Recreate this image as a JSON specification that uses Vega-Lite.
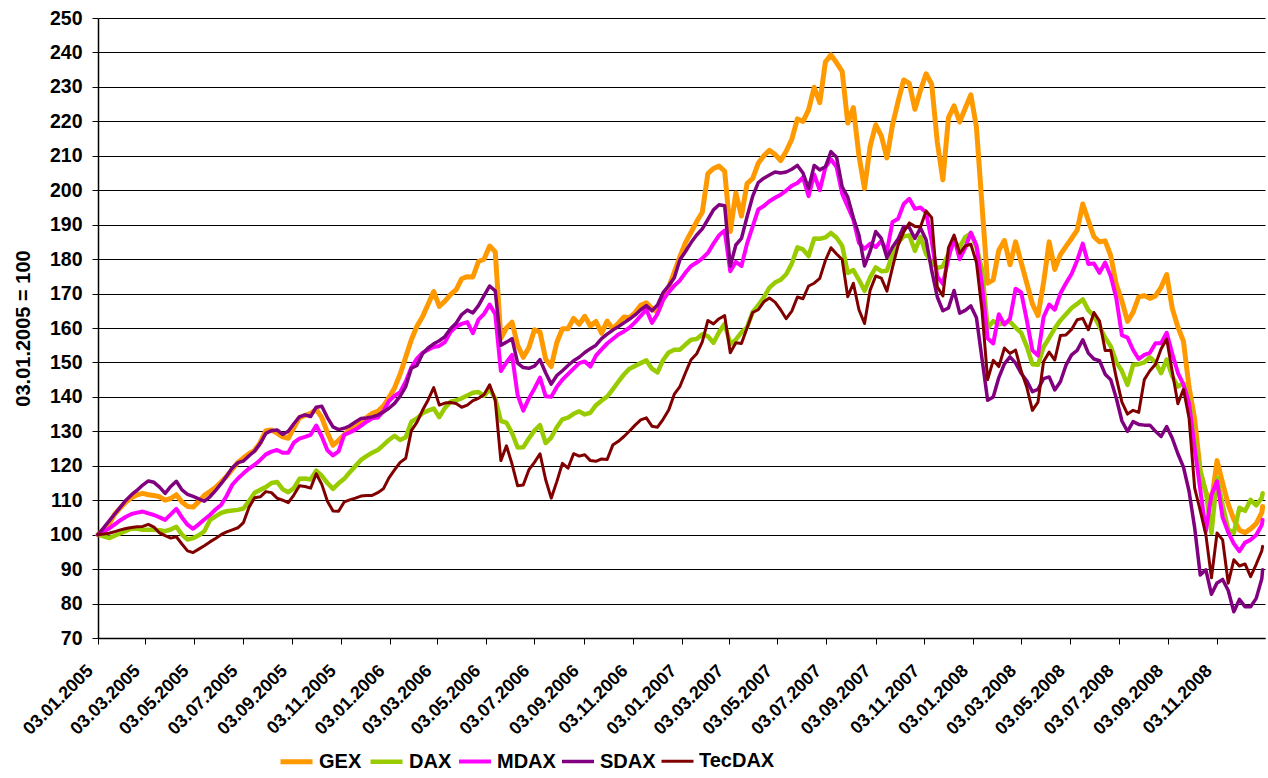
{
  "$schema": "https://vega.github.io/schema/vega-lite/v6.json",
  "width": 1167,
  "height": 620,
  "autosize": "none",
  "padding": {"left": 98, "top": 18, "right": 3, "bottom": 140},
  "background": "white",
  "config": {
    "font": "Liberation Sans",
    "view": {"stroke": null},
    "legend": {
      "symbolType": "stroke",
      "symbolSize": 1024,
      "labelFontSize": 20,
      "labelFontWeight": "bold",
      "labelColor": "black",
      "labelOffset": 4,
      "columnPadding": -1
    }
  },
  "data": {
    "values": [
      {"d":"2005-01-03","GEX":100,"DAX":100,"MDAX":100,"SDAX":100,"TecDAX":100},
      {"d":"2005-01-10","GEX":101.5,"DAX":99.5,"MDAX":100.9,"SDAX":102,"TecDAX":100.2},
      {"d":"2005-01-17","GEX":103.2,"DAX":99,"MDAX":101.8,"SDAX":104,"TecDAX":100.4},
      {"d":"2005-01-24","GEX":106,"DAX":99.7,"MDAX":103,"SDAX":106,"TecDAX":100.9},
      {"d":"2005-01-31","GEX":107.8,"DAX":100.4,"MDAX":104.2,"SDAX":108,"TecDAX":101.4},
      {"d":"2005-02-07","GEX":109.5,"DAX":101.1,"MDAX":105.2,"SDAX":110,"TecDAX":101.8},
      {"d":"2005-02-14","GEX":110.8,"DAX":101.8,"MDAX":106,"SDAX":111.6,"TecDAX":102.1},
      {"d":"2005-02-21","GEX":111.6,"DAX":101.7,"MDAX":106.4,"SDAX":112.9,"TecDAX":102.3},
      {"d":"2005-02-28","GEX":112,"DAX":101.4,"MDAX":106.7,"SDAX":114.4,"TecDAX":102.4},
      {"d":"2005-03-07","GEX":111.6,"DAX":101.4,"MDAX":106.2,"SDAX":115.6,"TecDAX":103},
      {"d":"2005-03-14","GEX":111.4,"DAX":101.4,"MDAX":105.7,"SDAX":115.2,"TecDAX":102.2},
      {"d":"2005-03-21","GEX":111,"DAX":101.3,"MDAX":105,"SDAX":113.8,"TecDAX":100.5},
      {"d":"2005-03-28","GEX":110,"DAX":101,"MDAX":104.3,"SDAX":112,"TecDAX":99.7},
      {"d":"2005-04-04","GEX":110.5,"DAX":101.5,"MDAX":105.9,"SDAX":114,"TecDAX":99},
      {"d":"2005-04-11","GEX":111.6,"DAX":102.3,"MDAX":107.5,"SDAX":115.5,"TecDAX":99.4},
      {"d":"2005-04-18","GEX":109.5,"DAX":100,"MDAX":105,"SDAX":113,"TecDAX":97.3},
      {"d":"2005-04-25","GEX":108.2,"DAX":98.6,"MDAX":102.9,"SDAX":111.7,"TecDAX":95.3},
      {"d":"2005-05-02","GEX":108,"DAX":99,"MDAX":101.7,"SDAX":111.1,"TecDAX":94.8},
      {"d":"2005-05-09","GEX":109.6,"DAX":99.8,"MDAX":103,"SDAX":110.4,"TecDAX":95.8},
      {"d":"2005-05-16","GEX":111.4,"DAX":101,"MDAX":104.4,"SDAX":109.7,"TecDAX":96.8},
      {"d":"2005-05-23","GEX":112.5,"DAX":104.2,"MDAX":105.7,"SDAX":111,"TecDAX":97.9},
      {"d":"2005-05-30","GEX":113.7,"DAX":105.3,"MDAX":107.3,"SDAX":112.8,"TecDAX":98.9},
      {"d":"2005-06-06","GEX":115.3,"DAX":106.3,"MDAX":108.6,"SDAX":114.8,"TecDAX":100},
      {"d":"2005-06-13","GEX":117,"DAX":106.8,"MDAX":111.3,"SDAX":117,"TecDAX":100.8},
      {"d":"2005-06-20","GEX":119,"DAX":107,"MDAX":114.5,"SDAX":119.4,"TecDAX":101.4},
      {"d":"2005-06-27","GEX":121,"DAX":107.2,"MDAX":116.3,"SDAX":120.9,"TecDAX":102},
      {"d":"2005-07-04","GEX":122.3,"DAX":107.6,"MDAX":117.8,"SDAX":121.4,"TecDAX":103.5},
      {"d":"2005-07-11","GEX":123.5,"DAX":109.8,"MDAX":119.2,"SDAX":122.9,"TecDAX":108},
      {"d":"2005-07-18","GEX":124.5,"DAX":112.2,"MDAX":120.3,"SDAX":124.3,"TecDAX":110.7},
      {"d":"2005-07-25","GEX":126.8,"DAX":113,"MDAX":121.7,"SDAX":126.5,"TecDAX":111},
      {"d":"2005-08-01","GEX":130.2,"DAX":113.8,"MDAX":123.3,"SDAX":129.4,"TecDAX":112.5},
      {"d":"2005-08-08","GEX":130.4,"DAX":115,"MDAX":124.1,"SDAX":130.2,"TecDAX":112.2},
      {"d":"2005-08-15","GEX":129.5,"DAX":115.3,"MDAX":124.6,"SDAX":130.4,"TecDAX":110.6},
      {"d":"2005-08-22","GEX":128.4,"DAX":113.2,"MDAX":123.8,"SDAX":129.1,"TecDAX":110},
      {"d":"2005-08-29","GEX":128,"DAX":112.3,"MDAX":123.8,"SDAX":130,"TecDAX":109.3},
      {"d":"2005-09-05","GEX":131,"DAX":113.5,"MDAX":126.7,"SDAX":132.2,"TecDAX":111.5},
      {"d":"2005-09-12","GEX":134,"DAX":116.2,"MDAX":127.9,"SDAX":134.2,"TecDAX":114.2},
      {"d":"2005-09-19","GEX":134.6,"DAX":116.3,"MDAX":128.4,"SDAX":134.8,"TecDAX":114},
      {"d":"2005-09-26","GEX":135.2,"DAX":116,"MDAX":129,"SDAX":134.3,"TecDAX":113.5},
      {"d":"2005-10-03","GEX":136.4,"DAX":118.6,"MDAX":131.7,"SDAX":137,"TecDAX":117.7},
      {"d":"2005-10-10","GEX":134,"DAX":117.1,"MDAX":128.5,"SDAX":137.3,"TecDAX":114.6},
      {"d":"2005-10-17","GEX":129.6,"DAX":115,"MDAX":124.5,"SDAX":134,"TecDAX":109.7},
      {"d":"2005-10-24","GEX":126,"DAX":113.3,"MDAX":123,"SDAX":131.3,"TecDAX":106.9},
      {"d":"2005-10-31","GEX":127.4,"DAX":114.9,"MDAX":124.2,"SDAX":130.5,"TecDAX":106.8},
      {"d":"2005-11-07","GEX":129,"DAX":116.2,"MDAX":129,"SDAX":130.9,"TecDAX":109.5},
      {"d":"2005-11-14","GEX":130.7,"DAX":118.1,"MDAX":129.7,"SDAX":131.6,"TecDAX":110.1},
      {"d":"2005-11-21","GEX":131.7,"DAX":119.9,"MDAX":130.5,"SDAX":132.7,"TecDAX":110.6},
      {"d":"2005-11-28","GEX":132.9,"DAX":121.7,"MDAX":131.6,"SDAX":133.7,"TecDAX":111.2},
      {"d":"2005-12-05","GEX":134,"DAX":122.8,"MDAX":132.8,"SDAX":133.9,"TecDAX":111.4},
      {"d":"2005-12-12","GEX":135.2,"DAX":123.8,"MDAX":133.8,"SDAX":134.2,"TecDAX":111.4},
      {"d":"2005-12-19","GEX":135.8,"DAX":124.6,"MDAX":134,"SDAX":134.7,"TecDAX":112.2},
      {"d":"2005-12-26","GEX":137.3,"DAX":126,"MDAX":135.8,"SDAX":135.6,"TecDAX":113.3},
      {"d":"2006-01-02","GEX":139.8,"DAX":127.5,"MDAX":138.8,"SDAX":136.7,"TecDAX":116.5},
      {"d":"2006-01-09","GEX":142.6,"DAX":128.7,"MDAX":140.3,"SDAX":138.1,"TecDAX":118.8},
      {"d":"2006-01-16","GEX":146.6,"DAX":127.5,"MDAX":141.4,"SDAX":140.2,"TecDAX":121},
      {"d":"2006-01-23","GEX":151.6,"DAX":128.3,"MDAX":144.5,"SDAX":143,"TecDAX":122.2},
      {"d":"2006-01-30","GEX":156.6,"DAX":132.8,"MDAX":148.5,"SDAX":148.3,"TecDAX":130.2},
      {"d":"2006-02-06","GEX":160.5,"DAX":133.7,"MDAX":151.1,"SDAX":149.1,"TecDAX":132.6},
      {"d":"2006-02-13","GEX":163.3,"DAX":135.3,"MDAX":152.8,"SDAX":152.5,"TecDAX":136.1},
      {"d":"2006-02-20","GEX":166.9,"DAX":136,"MDAX":153.7,"SDAX":154.2,"TecDAX":139.1},
      {"d":"2006-02-27","GEX":170.6,"DAX":136.6,"MDAX":154.5,"SDAX":155.4,"TecDAX":142.7},
      {"d":"2006-03-06","GEX":166.3,"DAX":134.1,"MDAX":154.8,"SDAX":156.3,"TecDAX":137.6},
      {"d":"2006-03-13","GEX":167.8,"DAX":136.8,"MDAX":155.9,"SDAX":157.5,"TecDAX":138.2},
      {"d":"2006-03-20","GEX":169.7,"DAX":138.6,"MDAX":158.8,"SDAX":159.8,"TecDAX":138.4},
      {"d":"2006-03-27","GEX":171.1,"DAX":139,"MDAX":160.4,"SDAX":161.4,"TecDAX":138.1},
      {"d":"2006-04-03","GEX":174.3,"DAX":139.6,"MDAX":161.2,"SDAX":163.9,"TecDAX":137},
      {"d":"2006-04-10","GEX":174.9,"DAX":140.4,"MDAX":161.7,"SDAX":165.2,"TecDAX":137.6},
      {"d":"2006-04-17","GEX":174.8,"DAX":141.2,"MDAX":158.5,"SDAX":164.4,"TecDAX":138.9},
      {"d":"2006-04-24","GEX":179.3,"DAX":141.4,"MDAX":162.4,"SDAX":166.5,"TecDAX":139.6},
      {"d":"2006-05-01","GEX":180,"DAX":140.3,"MDAX":164.1,"SDAX":169.4,"TecDAX":140.7},
      {"d":"2006-05-08","GEX":183.8,"DAX":142.3,"MDAX":166.8,"SDAX":172.2,"TecDAX":143.5},
      {"d":"2006-05-15","GEX":182.1,"DAX":139.5,"MDAX":164,"SDAX":170.8,"TecDAX":139},
      {"d":"2006-05-22","GEX":157,"DAX":133,"MDAX":147.5,"SDAX":155,"TecDAX":121.5},
      {"d":"2006-05-29","GEX":160,"DAX":132.5,"MDAX":150,"SDAX":155.9,"TecDAX":125.8},
      {"d":"2006-06-05","GEX":161.7,"DAX":129.5,"MDAX":152.2,"SDAX":156.9,"TecDAX":120.5},
      {"d":"2006-06-12","GEX":155,"DAX":125.3,"MDAX":140.5,"SDAX":149.8,"TecDAX":114.2},
      {"d":"2006-06-19","GEX":151.5,"DAX":125.4,"MDAX":136,"SDAX":148.5,"TecDAX":114.4},
      {"d":"2006-06-26","GEX":154.3,"DAX":127.9,"MDAX":139.5,"SDAX":148.3,"TecDAX":118.8},
      {"d":"2006-07-03","GEX":159.5,"DAX":130.2,"MDAX":142.4,"SDAX":148.9,"TecDAX":121},
      {"d":"2006-07-10","GEX":158.8,"DAX":131.8,"MDAX":145.6,"SDAX":150.8,"TecDAX":123.5},
      {"d":"2006-07-17","GEX":151,"DAX":126.6,"MDAX":140.2,"SDAX":147,"TecDAX":116},
      {"d":"2006-07-24","GEX":148.8,"DAX":128.2,"MDAX":140,"SDAX":143.7,"TecDAX":110.6},
      {"d":"2006-07-31","GEX":155.8,"DAX":131.2,"MDAX":142.9,"SDAX":146.2,"TecDAX":115.4},
      {"d":"2006-08-07","GEX":159.8,"DAX":133.5,"MDAX":145,"SDAX":147.6,"TecDAX":120.7},
      {"d":"2006-08-14","GEX":159.8,"DAX":134,"MDAX":146.6,"SDAX":149.1,"TecDAX":119.3},
      {"d":"2006-08-21","GEX":162.8,"DAX":135.1,"MDAX":148.2,"SDAX":150.5,"TecDAX":123.5},
      {"d":"2006-08-28","GEX":161.1,"DAX":135.8,"MDAX":149.8,"SDAX":151.5,"TecDAX":122.8},
      {"d":"2006-09-04","GEX":163.4,"DAX":134.9,"MDAX":150.3,"SDAX":152.9,"TecDAX":123.2},
      {"d":"2006-09-11","GEX":160.6,"DAX":135.4,"MDAX":148.8,"SDAX":154,"TecDAX":121.5},
      {"d":"2006-09-18","GEX":161.9,"DAX":137.6,"MDAX":152,"SDAX":155,"TecDAX":121.3},
      {"d":"2006-09-25","GEX":158.5,"DAX":138.9,"MDAX":153.8,"SDAX":156.9,"TecDAX":122},
      {"d":"2006-10-02","GEX":162,"DAX":140.1,"MDAX":155.5,"SDAX":158.2,"TecDAX":121.8},
      {"d":"2006-10-09","GEX":159.8,"DAX":142.2,"MDAX":156.8,"SDAX":159.4,"TecDAX":126},
      {"d":"2006-10-16","GEX":161.4,"DAX":144.4,"MDAX":158.1,"SDAX":160.4,"TecDAX":127.1},
      {"d":"2006-10-23","GEX":163.2,"DAX":146.5,"MDAX":159,"SDAX":161.5,"TecDAX":128.5},
      {"d":"2006-10-30","GEX":163,"DAX":148.2,"MDAX":160.1,"SDAX":162.6,"TecDAX":130.1},
      {"d":"2006-11-06","GEX":164.5,"DAX":149,"MDAX":161.7,"SDAX":163.8,"TecDAX":131.8},
      {"d":"2006-11-13","GEX":166.6,"DAX":149.8,"MDAX":163.5,"SDAX":165.3,"TecDAX":133.3},
      {"d":"2006-11-20","GEX":167.3,"DAX":150.6,"MDAX":165.4,"SDAX":166.5,"TecDAX":133.9},
      {"d":"2006-11-27","GEX":165.7,"DAX":148.2,"MDAX":161.5,"SDAX":165,"TecDAX":131.5},
      {"d":"2006-12-04","GEX":164.6,"DAX":147.1,"MDAX":164.1,"SDAX":166.7,"TecDAX":131.2},
      {"d":"2006-12-11","GEX":168.4,"DAX":150.7,"MDAX":168.2,"SDAX":170.3,"TecDAX":133.5},
      {"d":"2006-12-18","GEX":171.9,"DAX":152.9,"MDAX":170.4,"SDAX":172.3,"TecDAX":136.2},
      {"d":"2006-12-25","GEX":176.2,"DAX":153.7,"MDAX":172.3,"SDAX":174.6,"TecDAX":140.8},
      {"d":"2007-01-01","GEX":180.7,"DAX":153.7,"MDAX":173.8,"SDAX":179.8,"TecDAX":143},
      {"d":"2007-01-08","GEX":184.8,"DAX":155.2,"MDAX":176.1,"SDAX":182.2,"TecDAX":147},
      {"d":"2007-01-15","GEX":187.8,"DAX":156.6,"MDAX":178,"SDAX":184.8,"TecDAX":150.8},
      {"d":"2007-01-22","GEX":190.9,"DAX":156.8,"MDAX":179,"SDAX":187,"TecDAX":152.5},
      {"d":"2007-01-29","GEX":193.6,"DAX":158.2,"MDAX":180.2,"SDAX":188.8,"TecDAX":156},
      {"d":"2007-02-05","GEX":204.8,"DAX":157.6,"MDAX":181.8,"SDAX":191.5,"TecDAX":162.2},
      {"d":"2007-02-12","GEX":206.3,"DAX":155.7,"MDAX":184.5,"SDAX":194.3,"TecDAX":161.2},
      {"d":"2007-02-19","GEX":207,"DAX":158.8,"MDAX":186.9,"SDAX":195.8,"TecDAX":162.7},
      {"d":"2007-02-26","GEX":205.5,"DAX":161.2,"MDAX":188.3,"SDAX":195.5,"TecDAX":163.6},
      {"d":"2007-03-05","GEX":188,"DAX":155.3,"MDAX":176.5,"SDAX":178,"TecDAX":152.8},
      {"d":"2007-03-12","GEX":199.2,"DAX":156.6,"MDAX":179.2,"SDAX":184.1,"TecDAX":155.7},
      {"d":"2007-03-19","GEX":192.5,"DAX":158.7,"MDAX":178,"SDAX":186,"TecDAX":155.5},
      {"d":"2007-03-26","GEX":201.9,"DAX":160.2,"MDAX":184.5,"SDAX":192.3,"TecDAX":160},
      {"d":"2007-04-02","GEX":203.4,"DAX":164.6,"MDAX":189.4,"SDAX":198.2,"TecDAX":164.5},
      {"d":"2007-04-09","GEX":207.8,"DAX":166.6,"MDAX":194.4,"SDAX":202.2,"TecDAX":165.3},
      {"d":"2007-04-16","GEX":210,"DAX":168.9,"MDAX":195.4,"SDAX":203.5,"TecDAX":167.6},
      {"d":"2007-04-23","GEX":211.6,"DAX":171.7,"MDAX":196.8,"SDAX":204.4,"TecDAX":168.7},
      {"d":"2007-04-30","GEX":210.4,"DAX":173.2,"MDAX":197.8,"SDAX":205.3,"TecDAX":167.5},
      {"d":"2007-05-07","GEX":208.6,"DAX":174,"MDAX":198.7,"SDAX":205,"TecDAX":165.3},
      {"d":"2007-05-14","GEX":211.3,"DAX":175.6,"MDAX":199.9,"SDAX":205.3,"TecDAX":162.7},
      {"d":"2007-05-21","GEX":214.8,"DAX":178.7,"MDAX":201.3,"SDAX":206.1,"TecDAX":164.9},
      {"d":"2007-05-28","GEX":220.7,"DAX":183.4,"MDAX":202.1,"SDAX":207.2,"TecDAX":169},
      {"d":"2007-06-04","GEX":220,"DAX":182.8,"MDAX":203.7,"SDAX":205,"TecDAX":168.5},
      {"d":"2007-06-11","GEX":223.3,"DAX":180.9,"MDAX":198.3,"SDAX":200.5,"TecDAX":172.2},
      {"d":"2007-06-18","GEX":229.9,"DAX":186,"MDAX":204.6,"SDAX":207.2,"TecDAX":173},
      {"d":"2007-06-25","GEX":225.4,"DAX":185.9,"MDAX":200,"SDAX":205.9,"TecDAX":174.4},
      {"d":"2007-07-02","GEX":237.2,"DAX":186.3,"MDAX":206.6,"SDAX":206.8,"TecDAX":179.6},
      {"d":"2007-07-09","GEX":239.3,"DAX":187.6,"MDAX":209,"SDAX":211.2,"TecDAX":183.3},
      {"d":"2007-07-16","GEX":237,"DAX":186.2,"MDAX":206.7,"SDAX":209.6,"TecDAX":181.5},
      {"d":"2007-07-23","GEX":234.5,"DAX":183.9,"MDAX":199,"SDAX":201,"TecDAX":179.9},
      {"d":"2007-07-30","GEX":219.5,"DAX":176,"MDAX":195.2,"SDAX":198,"TecDAX":169.1},
      {"d":"2007-08-06","GEX":224,"DAX":176.8,"MDAX":191.5,"SDAX":192,"TecDAX":173},
      {"d":"2007-08-13","GEX":210,"DAX":174,"MDAX":184.7,"SDAX":187,"TecDAX":165.3},
      {"d":"2007-08-20","GEX":200.5,"DAX":170.8,"MDAX":183,"SDAX":178,"TecDAX":161.3},
      {"d":"2007-08-27","GEX":212.8,"DAX":174.7,"MDAX":184.5,"SDAX":182.3,"TecDAX":171},
      {"d":"2007-09-03","GEX":219,"DAX":177.6,"MDAX":183.5,"SDAX":188,"TecDAX":175.1},
      {"d":"2007-09-10","GEX":215.8,"DAX":176.5,"MDAX":185.3,"SDAX":186,"TecDAX":174.5},
      {"d":"2007-09-17","GEX":209.4,"DAX":176.6,"MDAX":182.3,"SDAX":180.4,"TecDAX":170.7},
      {"d":"2007-09-24","GEX":219,"DAX":181.5,"MDAX":190.8,"SDAX":183.5,"TecDAX":177.6},
      {"d":"2007-10-01","GEX":225.8,"DAX":184.9,"MDAX":191.7,"SDAX":185.8,"TecDAX":184},
      {"d":"2007-10-08","GEX":232,"DAX":186.6,"MDAX":196,"SDAX":189.5,"TecDAX":187.9},
      {"d":"2007-10-15","GEX":231,"DAX":186.9,"MDAX":197.5,"SDAX":189.2,"TecDAX":190.5},
      {"d":"2007-10-22","GEX":223.5,"DAX":182.4,"MDAX":194.6,"SDAX":186,"TecDAX":189.5},
      {"d":"2007-10-29","GEX":229,"DAX":186.5,"MDAX":195,"SDAX":189,"TecDAX":189.3},
      {"d":"2007-11-05","GEX":233.8,"DAX":181.5,"MDAX":193.5,"SDAX":185.6,"TecDAX":194},
      {"d":"2007-11-12","GEX":230.8,"DAX":179,"MDAX":185.2,"SDAX":176.7,"TecDAX":192},
      {"d":"2007-11-19","GEX":214,"DAX":177.4,"MDAX":175,"SDAX":169,"TecDAX":172},
      {"d":"2007-11-26","GEX":203,"DAX":177.9,"MDAX":172.8,"SDAX":165,"TecDAX":169.3},
      {"d":"2007-12-03","GEX":221,"DAX":181.6,"MDAX":180.2,"SDAX":165.8,"TecDAX":183.3},
      {"d":"2007-12-10","GEX":224.5,"DAX":185,"MDAX":186.3,"SDAX":170.9,"TecDAX":187},
      {"d":"2007-12-17","GEX":219.8,"DAX":183.5,"MDAX":180,"SDAX":164.3,"TecDAX":181.7},
      {"d":"2007-12-24","GEX":223.8,"DAX":186.4,"MDAX":183.3,"SDAX":165.1,"TecDAX":183.8},
      {"d":"2007-12-31","GEX":227.7,"DAX":187.5,"MDAX":187.7,"SDAX":166.4,"TecDAX":184.3},
      {"d":"2008-01-07","GEX":218.3,"DAX":183.5,"MDAX":184,"SDAX":163,"TecDAX":179},
      {"d":"2008-01-14","GEX":195.5,"DAX":177,"MDAX":172.4,"SDAX":151,"TecDAX":165},
      {"d":"2008-01-21","GEX":173,"DAX":160,"MDAX":157,"SDAX":139,"TecDAX":145},
      {"d":"2008-01-28","GEX":174,"DAX":162,"MDAX":155.5,"SDAX":140,"TecDAX":150.6},
      {"d":"2008-02-04","GEX":182.6,"DAX":161.1,"MDAX":164,"SDAX":145.6,"TecDAX":148.8},
      {"d":"2008-02-11","GEX":185.4,"DAX":161.5,"MDAX":161,"SDAX":149.6,"TecDAX":154.2},
      {"d":"2008-02-18","GEX":178.4,"DAX":161.9,"MDAX":162.7,"SDAX":151.6,"TecDAX":152.6},
      {"d":"2008-02-25","GEX":185,"DAX":160.1,"MDAX":171.4,"SDAX":149.8,"TecDAX":153.6},
      {"d":"2008-03-03","GEX":179,"DAX":158.6,"MDAX":170.3,"SDAX":146.8,"TecDAX":147.5},
      {"d":"2008-03-10","GEX":173,"DAX":154.6,"MDAX":162.3,"SDAX":144.7,"TecDAX":142.8},
      {"d":"2008-03-17","GEX":167,"DAX":149.5,"MDAX":153.5,"SDAX":141.5,"TecDAX":136.1},
      {"d":"2008-03-24","GEX":163.6,"DAX":149.3,"MDAX":152,"SDAX":142.2,"TecDAX":138.5},
      {"d":"2008-03-31","GEX":173.2,"DAX":154.5,"MDAX":163.2,"SDAX":145.3,"TecDAX":150.3},
      {"d":"2008-04-07","GEX":185,"DAX":157.1,"MDAX":166.8,"SDAX":145.8,"TecDAX":153},
      {"d":"2008-04-14","GEX":177,"DAX":159.9,"MDAX":165.3,"SDAX":142,"TecDAX":150.7},
      {"d":"2008-04-21","GEX":181.3,"DAX":162.2,"MDAX":170,"SDAX":144.4,"TecDAX":157.8},
      {"d":"2008-04-28","GEX":183.7,"DAX":164,"MDAX":173,"SDAX":149.2,"TecDAX":158},
      {"d":"2008-05-05","GEX":186,"DAX":165.8,"MDAX":175.7,"SDAX":152.2,"TecDAX":159.6},
      {"d":"2008-05-12","GEX":188.4,"DAX":167,"MDAX":179.6,"SDAX":153.5,"TecDAX":162.4},
      {"d":"2008-05-19","GEX":196,"DAX":168.3,"MDAX":184.5,"SDAX":156.6,"TecDAX":162.8},
      {"d":"2008-05-26","GEX":191.2,"DAX":165.2,"MDAX":178.6,"SDAX":152.7,"TecDAX":159.5},
      {"d":"2008-06-02","GEX":186.5,"DAX":163.5,"MDAX":178.7,"SDAX":151,"TecDAX":164.5},
      {"d":"2008-06-09","GEX":185,"DAX":160.4,"MDAX":176,"SDAX":150.5,"TecDAX":162},
      {"d":"2008-06-16","GEX":185.3,"DAX":157.2,"MDAX":179,"SDAX":146.6,"TecDAX":153.5},
      {"d":"2008-06-23","GEX":181,"DAX":154.7,"MDAX":175.1,"SDAX":145,"TecDAX":153.5},
      {"d":"2008-06-30","GEX":172.6,"DAX":150.1,"MDAX":168.6,"SDAX":139.6,"TecDAX":145.5},
      {"d":"2008-07-07","GEX":167.8,"DAX":147.5,"MDAX":157.9,"SDAX":133,"TecDAX":138.5},
      {"d":"2008-07-14","GEX":161.9,"DAX":143.5,"MDAX":157.2,"SDAX":130,"TecDAX":135},
      {"d":"2008-07-21","GEX":164.6,"DAX":149.3,"MDAX":153.6,"SDAX":132.8,"TecDAX":136.1},
      {"d":"2008-07-28","GEX":169,"DAX":149.5,"MDAX":151,"SDAX":132,"TecDAX":135.5},
      {"d":"2008-08-04","GEX":169.4,"DAX":150,"MDAX":152.2,"SDAX":131.8,"TecDAX":145},
      {"d":"2008-08-11","GEX":168.6,"DAX":151.5,"MDAX":152.8,"SDAX":131.8,"TecDAX":147.6},
      {"d":"2008-08-18","GEX":169.3,"DAX":150,"MDAX":155.6,"SDAX":130,"TecDAX":149.5},
      {"d":"2008-08-25","GEX":171.8,"DAX":146.9,"MDAX":155.6,"SDAX":128.5,"TecDAX":153.9},
      {"d":"2008-09-01","GEX":175.5,"DAX":150.8,"MDAX":158.6,"SDAX":131.4,"TecDAX":156.8},
      {"d":"2008-09-08","GEX":165.7,"DAX":146,"MDAX":152.5,"SDAX":128,"TecDAX":147.3},
      {"d":"2008-09-15","GEX":160.3,"DAX":143,"MDAX":147,"SDAX":123.5,"TecDAX":138},
      {"d":"2008-09-22","GEX":156.1,"DAX":143.9,"MDAX":143.6,"SDAX":119.6,"TecDAX":142.2},
      {"d":"2008-09-29","GEX":142.8,"DAX":139,"MDAX":138.2,"SDAX":112.6,"TecDAX":133.8},
      {"d":"2008-10-06","GEX":133.5,"DAX":127,"MDAX":125,"SDAX":102,"TecDAX":113.5},
      {"d":"2008-10-13","GEX":118.4,"DAX":118.5,"MDAX":113.2,"SDAX":88.3,"TecDAX":107},
      {"d":"2008-10-20","GEX":112.3,"DAX":112.4,"MDAX":101,"SDAX":89.8,"TecDAX":100},
      {"d":"2008-10-27","GEX":109.4,"DAX":100.5,"MDAX":111.5,"SDAX":82.7,"TecDAX":87.5},
      {"d":"2008-11-03","GEX":121.5,"DAX":116.5,"MDAX":115.5,"SDAX":86,"TecDAX":100.5},
      {"d":"2008-11-10","GEX":115,"DAX":108.6,"MDAX":105,"SDAX":87,"TecDAX":98.5},
      {"d":"2008-11-17","GEX":108.8,"DAX":101.5,"MDAX":100.7,"SDAX":83.8,"TecDAX":85.9},
      {"d":"2008-11-24","GEX":104.4,"DAX":100.5,"MDAX":97.4,"SDAX":77.6,"TecDAX":92.7},
      {"d":"2008-12-01","GEX":101.3,"DAX":107.8,"MDAX":95.2,"SDAX":81.2,"TecDAX":90.9},
      {"d":"2008-12-08","GEX":100.6,"DAX":106.9,"MDAX":97.7,"SDAX":79.1,"TecDAX":91.5},
      {"d":"2008-12-15","GEX":101.7,"DAX":110.1,"MDAX":98.5,"SDAX":79.1,"TecDAX":87.8},
      {"d":"2008-12-22","GEX":103.2,"DAX":108.5,"MDAX":99.9,"SDAX":81.5,"TecDAX":91.4},
      {"d":"2008-12-29","GEX":106.4,"DAX":110.7,"MDAX":102.8,"SDAX":87.2,"TecDAX":95.3},
      {"d":"2008-12-30","GEX":108.2,"DAX":112,"MDAX":104.3,"SDAX":89.8,"TecDAX":96.6}
    ]
  },
  "transform": [
    {"fold": ["GEX", "DAX", "MDAX", "SDAX", "TecDAX"], "as": ["index", "value"]}
  ],
  "mark": {"type": "line", "strokeJoin": "round", "strokeCap": "round"},
  "encoding": {
    "x": {
      "field": "d",
      "type": "temporal",
      "scale": {
        "type": "utc",
        "nice": false,
        "domain": [
          {"year": 2005, "month": 1, "date": 3, "utc": true},
          {"year": 2009, "month": 1, "date": 2, "utc": true}
        ]
      },
      "axis": {
        "title": null,
        "grid": false,
        "format": "%d.%m.%Y",
        "values": [
          {"year": 2005, "month": 1, "date": 3, "utc": true},
          {"year": 2005, "month": 3, "date": 3, "utc": true},
          {"year": 2005, "month": 5, "date": 3, "utc": true},
          {"year": 2005, "month": 7, "date": 3, "utc": true},
          {"year": 2005, "month": 9, "date": 3, "utc": true},
          {"year": 2005, "month": 11, "date": 3, "utc": true},
          {"year": 2006, "month": 1, "date": 3, "utc": true},
          {"year": 2006, "month": 3, "date": 3, "utc": true},
          {"year": 2006, "month": 5, "date": 3, "utc": true},
          {"year": 2006, "month": 7, "date": 3, "utc": true},
          {"year": 2006, "month": 9, "date": 3, "utc": true},
          {"year": 2006, "month": 11, "date": 3, "utc": true},
          {"year": 2007, "month": 1, "date": 3, "utc": true},
          {"year": 2007, "month": 3, "date": 3, "utc": true},
          {"year": 2007, "month": 5, "date": 3, "utc": true},
          {"year": 2007, "month": 7, "date": 3, "utc": true},
          {"year": 2007, "month": 9, "date": 3, "utc": true},
          {"year": 2007, "month": 11, "date": 3, "utc": true},
          {"year": 2008, "month": 1, "date": 3, "utc": true},
          {"year": 2008, "month": 3, "date": 3, "utc": true},
          {"year": 2008, "month": 5, "date": 3, "utc": true},
          {"year": 2008, "month": 7, "date": 3, "utc": true},
          {"year": 2008, "month": 9, "date": 3, "utc": true},
          {"year": 2008, "month": 11, "date": 3, "utc": true}
        ],
        "labelAngle": -45,
        "labelAlign": "right",
        "labelBaseline": "middle",
        "labelFontSize": 18,
        "labelFontWeight": "bold",
        "labelColor": "black",
        "labelPadding": 24,
        "labelOffset": -8,
        "labelOverlap": false,
        "labelFlush": false,
        "labelBound": false,
        "tickSize": 6,
        "tickColor": "black",
        "domainColor": "black",
        "domainWidth": 1.5
      }
    },
    "y": {
      "field": "value",
      "type": "quantitative",
      "scale": {"domain": [70, 250], "nice": false, "zero": false},
      "axis": {
        "title": "03.01.2005 = 100",
        "titleFontSize": 20,
        "titleFontWeight": "bold",
        "titleColor": "black",
        "titlePadding": 16,
        "values": [70, 80, 90, 100, 110, 120, 130, 140, 150, 160, 170, 180, 190, 200, 210, 220, 230, 240, 250],
        "labelFontSize": 19.5,
        "labelFontWeight": "bold",
        "labelColor": "black",
        "labelPadding": 10,
        "tickSize": 6,
        "tickColor": "black",
        "domainColor": "black",
        "domainWidth": 1.5,
        "grid": true,
        "gridColor": "black",
        "gridWidth": 1
      }
    },
    "color": {
      "field": "index",
      "type": "nominal",
      "scale": {
        "domain": ["GEX", "DAX", "MDAX", "SDAX", "TecDAX"],
        "range": ["#FF9900", "#99CC00", "#FF00FF", "#800080", "#800000"]
      },
      "legend": {"title": null, "orient": "none", "direction": "horizontal", "legendX": 180, "legendY": 725}
    },
    "strokeWidth": {
      "field": "index",
      "type": "nominal",
      "scale": {
        "domain": ["GEX", "DAX", "MDAX", "SDAX", "TecDAX"],
        "range": [5, 3, 3, 3, 3]
      },
      "legend": {"title": null, "orient": "none", "direction": "horizontal", "legendX": 180, "legendY": 725}
    }
  }
}
